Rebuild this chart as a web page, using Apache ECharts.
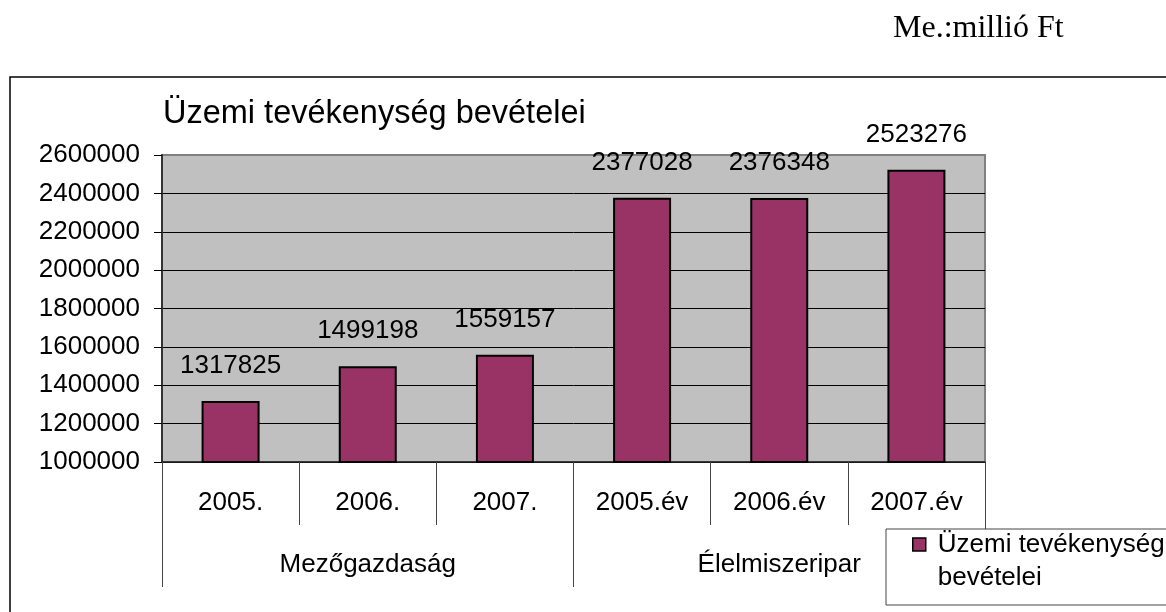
<!DOCTYPE html>
<html>
<head>
<meta charset="utf-8">
<script src="https://cdn.jsdelivr.net/npm/echarts@6/dist/echarts.min.js"></script>
<style>html,body{margin:0;padding:0;background:#fff;}#c{width:1166px;height:612px;}</style>
</head>
<body>
<div id="c"></div>
<script>
const years = ['2005.', '2006.', '2007.', '2005.év', '2006.év', '2007.év'];
const groups = ['Mezőgazdaság', 'Élelmiszeripar'];
const values = [1317825, 1499198, 1559157, 2377028, 2376348, 2523276];
const seriesName = 'Üzemi tevékenység bevételei';
const titleText = 'Üzemi tevékenység bevételei';
const unitText = 'Me.:millió Ft';
const yMin = 1000000, yMax = 2600000, yStep = 200000;

const SANS = '"Liberation Sans", Arial, sans-serif';
const chart = echarts.init(document.getElementById('c'), null, {renderer: 'canvas'});
chart.setOption({
  animation: false,
  backgroundColor: '#fff',
  title: {
    text: titleText, left: 163, top: 98, padding: 0,
    textStyle: {fontFamily: SANS, fontSize: 32.5, fontWeight: 'normal', color: '#000'}
  },
  graphic: [
    {type: 'rect', z: 1, shape: {x: 10, y: 77, width: 1300, height: 700},
     style: {fill: 'none', stroke: '#000', lineWidth: 1.5}},
    {type: 'text', z: 1, x: 893, y: 29,
     style: {text: unitText, font: '32px "Liberation Serif", "Times New Roman", serif', fill: '#000', verticalAlign: 'middle'}},
    {type: 'rect', z: 100, shape: {x: 886, y: 529, width: 400, height: 76},
     style: {fill: '#fff', stroke: '#444', lineWidth: 1}}
  ],
  legend: {
    z: 110, left: 912, top: 495, padding: 0,
    icon: 'rect', itemWidth: 13, itemHeight: 13,
    itemStyle: {borderColor: '#000', borderWidth: 1.5},
    formatter: function () { return ' \nÜzemi tevékenység\nbevételei'; },
    textStyle: {fontFamily: SANS, fontSize: 26, color: '#000', lineHeight: 33, padding: [0, 0, 0, 7]},
    data: [seriesName]
  },
  grid: {
    left: 162, right: 181, top: 155, bottom: 150,
    show: true, backgroundColor: '#c0c0c0', borderColor: '#808080', borderWidth: 2
  },
  xAxis: [
    {
      type: 'category', data: years, position: 'bottom',
      axisLine: {show: true, lineStyle: {color: '#222', width: 1.5}},
      axisTick: {show: true, interval: 0, length: 63, lineStyle: {color: '#444', width: 1}},
      axisLabel: {interval: 0, margin: 28, fontFamily: SANS, fontSize: 26, color: '#000'},
      splitLine: {show: false}
    },
    {
      type: 'category', data: groups, position: 'bottom',
      axisLine: {show: false},
      axisTick: {show: true, interval: 0, length: 125, lineStyle: {color: '#444', width: 1}},
      axisLabel: {interval: 0, margin: 90, fontFamily: SANS, fontSize: 26, color: '#000'},
      splitLine: {show: false}
    }
  ],
  yAxis: {
    type: 'value', min: yMin, max: yMax, interval: yStep,
    axisLine: {show: true, lineStyle: {color: '#333', width: 2}},
    axisTick: {show: true, length: 8, lineStyle: {color: '#000', width: 1}},
    axisLabel: {margin: 22, fontFamily: SANS, fontSize: 26, color: '#000',
      formatter: function (v) { return String(v); }},
    splitLine: {show: true, lineStyle: {color: ['#000','#000','#000','#000','#000','#000','#000','#000','#808080'], width: 1}}
  },
  series: [{
    name: seriesName, type: 'bar', xAxisIndex: 0, data: values, barWidth: 58,
    itemStyle: {color: '#993366', borderColor: '#000', borderWidth: 2},
    label: {show: true, position: 'top', distance: 22, fontFamily: SANS, fontSize: 26, color: '#000'}
  }]
});
</script>
</body>
</html>
